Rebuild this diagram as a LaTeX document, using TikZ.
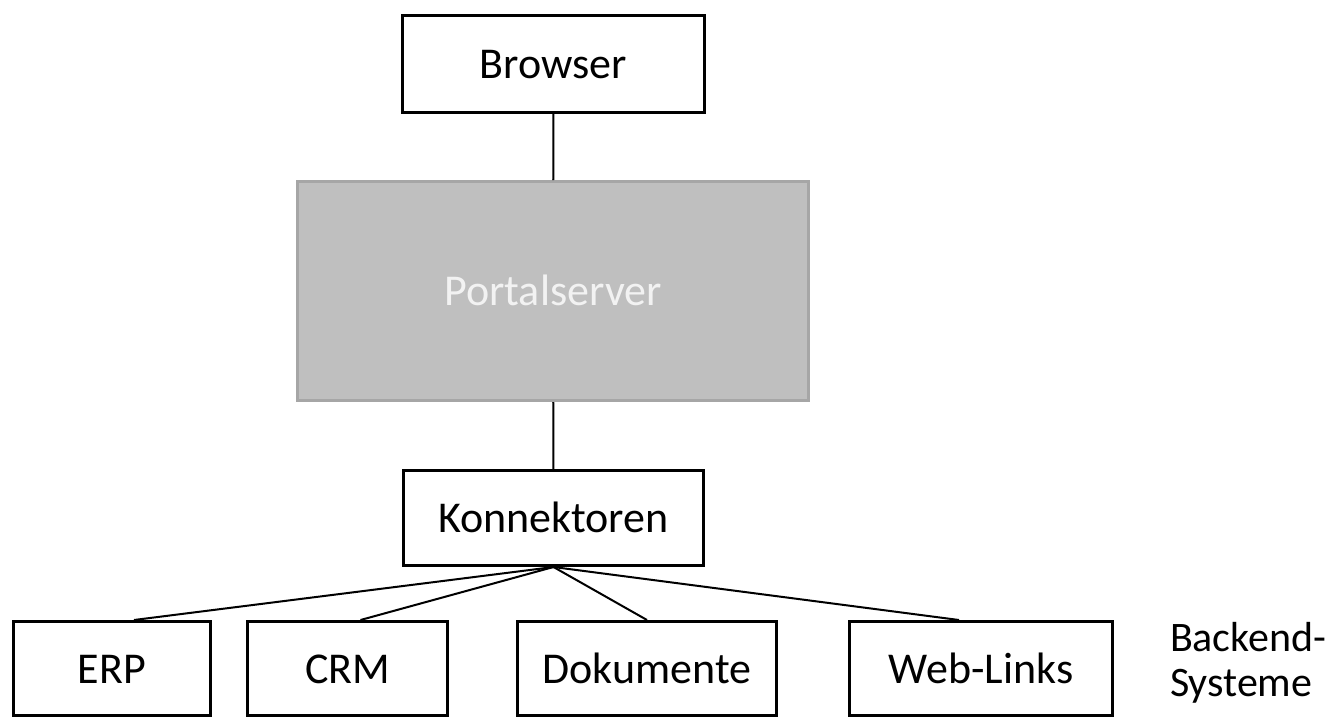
\documentclass[tikz,border=0pt]{standalone}
\usepackage{fontspec}
\setmainfont{Carlito}
\usepackage{xcolor}
\colorlet{colorPortal}{black!25}
\colorlet{colorPortalBorder}{black!35}
\colorlet{colorPortalText}{black!5}
\usetikzlibrary{positioning}
\tikzset{box/.style={draw, line width=3pt, fill=white, inner sep=0pt, text height=34pt, text depth=5pt, font=\fontsize{44}{50}\selectfont}}

\begin{document}
\begin{tikzpicture}[x=1pt, y=-1pt, line width=2pt]
\clip (0,0) rectangle (1334,716);
\node[box, minimum width=302, minimum height=97] (browser) at (553.5,64) {Browser};
\node[box, fill=colorPortal, draw=colorPortalBorder, text=colorPortalText, minimum width=511, minimum height=219] (portal) at (553,291) {Portalserver};
\node[box, minimum width=300, minimum height=95] (konn) at (553.5,518) {Konnektoren};
\node[box, minimum width=197, minimum height=94] (erp) at (112,668.5) {ERP};
\node[box, minimum width=200, minimum height=94] (crm) at (347.5,668.5) {CRM};
\node[box, minimum width=259, minimum height=94] (doku) at (647,668.5) {Dokumente};
\node[box, minimum width=263, minimum height=94] (weblinks) at (981,668.5) {Web-Links};
\node[anchor=west, align=left, inner sep=0pt, font=\fontsize{42}{45}\selectfont] (backend) at (1169,663) {Backend-\\Systeme};
\draw (browser) -- (portal);
\draw (portal) -- (konn);
\draw (konn.south) -- ([xshift=22pt]erp.north);
\draw (konn.south) -- ([xshift=13pt]crm.north);
\draw (konn.south) -- (doku.north);
\draw (konn.south) -- ([xshift=-22pt]weblinks.north);
\end{tikzpicture}
\end{document}
